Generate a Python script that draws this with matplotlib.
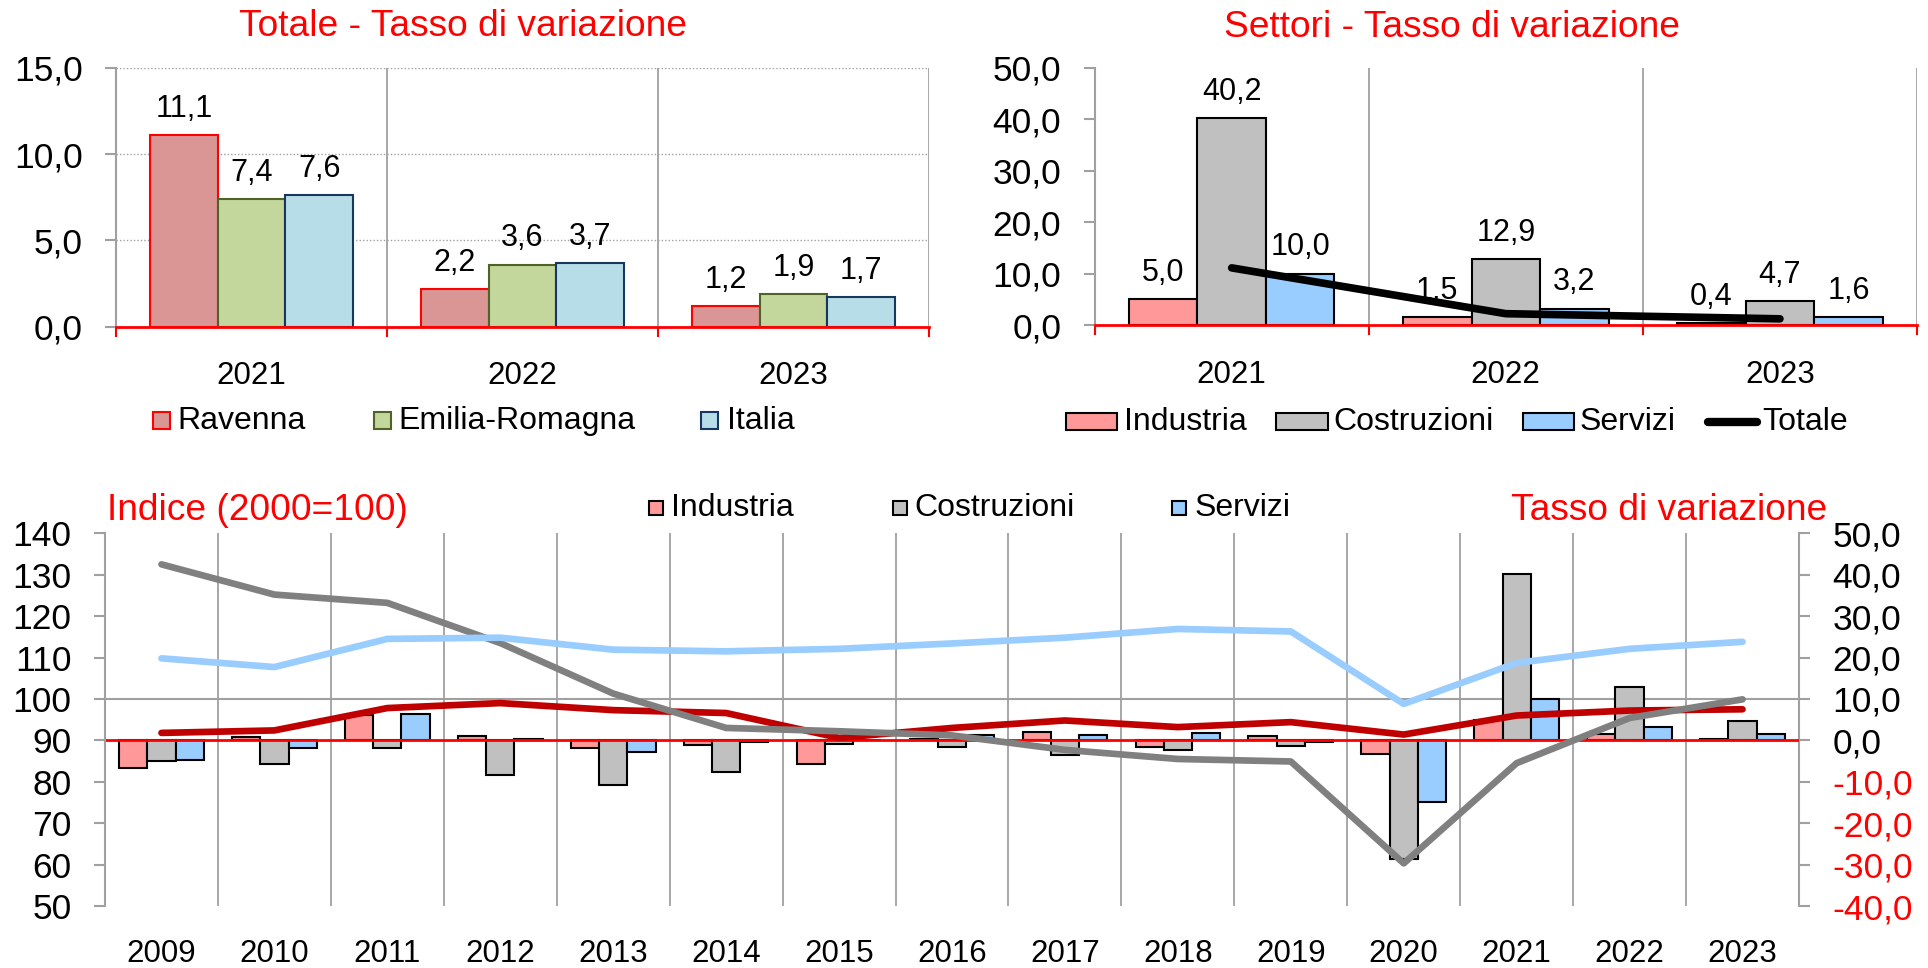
import numpy as np
import matplotlib
matplotlib.use('Agg')
import matplotlib.pyplot as plt
from matplotlib.patches import Rectangle
from matplotlib.lines import Line2D

plt.rcParams['font.family'] = ['Liberation Sans', 'DejaVu Sans']

# ---- top left: Totale - Tasso di variazione
tot_years = ['2021', '2022', '2023']
ravenna = [11.1, 2.2, 1.2]
emilia = [7.4, 3.6, 1.9]
italia = [7.6, 3.7, 1.7]

# ---- top right: Settori - Tasso di variazione
sett_industria = [5.0, 1.5, 0.4]
sett_costruzioni = [40.2, 12.9, 4.7]
sett_servizi = [10.0, 3.2, 1.6]
sett_totale = [11.1, 2.2, 1.2]

# ---- bottom: index (2000=100) and yearly change
years = ['2009', '2010', '2011', '2012', '2013', '2014', '2015', '2016',
         '2017', '2018', '2019', '2020', '2021', '2022', '2023']
var_industria = [-6.7, 0.8, 6.2, 1.0, -1.9, -1.1, -5.7, 0.4, 2.0, -1.7, 1.1, -3.2, 5.0, 1.5, 0.4]
var_costruzioni = [-5.1, -5.6, -1.9, -8.3, -10.7, -7.7, -1.0, -1.5, -3.6, -2.4, -1.3, -28.7, 40.2, 12.9, 4.7]
var_servizi = [-4.8, -1.9, 6.3, 0.3, -2.7, -0.3, 0.2, 1.4, 1.4, 1.7, -0.4, -15.0, 10.0, 3.2, 1.6]
idx_industria = [91.8, 92.4, 97.8, 99.0, 97.3, 96.6, 90.6, 93.0, 94.8, 93.2, 94.4, 91.4, 96.0, 97.2, 97.5]
idx_costruzioni = [132.5, 125.2, 123.2, 113.5, 101.3, 93.0, 92.2, 91.2, 87.7, 85.5, 84.9, 60.3, 84.5, 95.4, 99.9]
idx_servizi = [109.8, 107.7, 114.5, 114.8, 111.9, 111.5, 112.1, 113.4, 114.8, 116.9, 116.3, 98.8, 108.7, 112.1, 113.8]

W, H = 1928, 968
GRID = '#A0A0A0'
C_IND, C_COS, C_SER = '#FF9999', '#C0C0C0', '#99CCFF'
TICK_FS, CAT_FS, LAB_FS, LEG_FS, TITLE_FS = 25.5, 22.5, 22, 23, 26.7


def fx(px):
    return px / W


def fy(py):
    return 1 - py / H


def comma(v):
    return f'{v:.1f}'.replace('.', ',')


def axes_px(x0, y0, x1, y1):
    return fig.add_axes([fx(x0), fy(y1), (x1 - x0) / W, (y1 - y0) / H])


def legend_box(x0, x1, yc, h, face, edge, label, tx, fs=LEG_FS):
    fig.add_artist(Rectangle((fx(x0), fy(yc + h / 2)), (x1 - x0) / W, h / H,
                             transform=fig.transFigure, facecolor=face,
                             edgecolor=edge, lw=1.5))
    fig.text(fx(tx), fy(yc), label, ha='left', va='center', fontsize=fs)


def category_frame(ax, n, bottom_color='red'):
    ax.set_xlim(-0.5, n - 0.5)
    for b in np.arange(0.5, n, 1.0):
        ax.axvline(b, color=GRID, lw=1.3, zorder=1)
    for s in ['top', 'right']:
        ax.spines[s].set_visible(False)
    ax.spines['left'].set_color(GRID)
    ax.spines['left'].set_linewidth(1.5)
    ax.spines['bottom'].set_color(bottom_color)
    ax.spines['bottom'].set_linewidth(2)
    ax.spines['bottom'].set_zorder(4)
    ax.set_xticks(np.arange(-0.5, n, 1.0), minor=True)
    ax.tick_params(axis='x', which='minor', length=7, width=1.5, color='red', direction='out')
    ax.tick_params(axis='x', which='major', length=0, pad=25, labelsize=CAT_FS)
    ax.tick_params(axis='y', direction='out', length=8, width=1.5, color=GRID,
                   pad=16, labelsize=TICK_FS)


fig = plt.figure(figsize=(W / 100, H / 100), dpi=100)

# ================= top left
ax1 = axes_px(116, 67.7, 929, 326.7)
x = np.arange(len(tot_years))
bw = 0.25
for off, vals, face, edge in [(-bw, ravenna, '#D99694', '#FF0000'),
                              (0, emilia, '#C3D69B', '#4F6228'),
                              (bw, italia, '#B7DEE8', '#17375E')]:
    ax1.bar(x + off, vals, bw, color=face, edgecolor=edge, lw=1.5, zorder=3)
    for xi, v in zip(x + off, vals):
        ax1.annotate(comma(v), (xi, v), xytext=(0, 13), textcoords='offset points',
                     ha='center', va='baseline', fontsize=LAB_FS)
ax1.set_ylim(0, 15)
ax1.set_yticks([0, 5, 10, 15])
ax1.set_yticklabels([comma(v) for v in [0, 5, 10, 15]])
ax1.yaxis.grid(True, ls=(0, (1, 1.5)), color=GRID, lw=1)
ax1.set_axisbelow(True)
category_frame(ax1, len(tot_years))
ax1.set_xticks(x)
ax1.set_xticklabels(tot_years)
fig.text(fx(463), fy(36), 'Totale - Tasso di variazione', color='red',
         fontsize=TITLE_FS, ha='center', va='baseline')

legend_box(152.7, 169.6, 420.7, 17, '#D99694', '#FF0000', 'Ravenna', 177.7)
legend_box(374, 391, 420.7, 17, '#C3D69B', '#4F6228', 'Emilia-Romagna', 398.7)
legend_box(701, 718, 420.7, 17, '#B7DEE8', '#17375E', 'Italia', 727)

# ================= top right
ax2 = axes_px(1094.6, 67.7, 1917, 325)
for off, vals, face in [(-bw, sett_industria, C_IND),
                        (0, sett_costruzioni, C_COS),
                        (bw, sett_servizi, C_SER)]:
    ax2.bar(x + off, vals, bw, color=face, edgecolor='black', lw=1.5, zorder=3)
    for xi, v in zip(x + off, vals):
        ax2.annotate(comma(v), (xi, v), xytext=(0, 13), textcoords='offset points',
                     ha='center', va='baseline', fontsize=LAB_FS)
ax2.plot(x, sett_totale, color='black', lw=5.5, solid_capstyle='round', zorder=5)
ax2.set_ylim(0, 50)
ax2.set_yticks(np.arange(0, 51, 10))
ax2.set_yticklabels([comma(v) for v in np.arange(0, 51, 10)])
category_frame(ax2, len(tot_years))
ax2.set_xticks(x)
ax2.set_xticklabels(tot_years)
fig.text(fx(1452), fy(36.7), 'Settori - Tasso di variazione', color='red',
         fontsize=TITLE_FS, ha='center', va='baseline')

legend_box(1066, 1117, 421.7, 17, C_IND, 'black', 'Industria', 1123.6)
legend_box(1276, 1328, 421.7, 17, C_COS, 'black', 'Costruzioni', 1333)
legend_box(1523, 1574, 421.7, 17, C_SER, 'black', 'Servizi', 1580)
fig.add_artist(Line2D([fx(1708), fx(1757)], [fy(421.7), fy(421.7)], color='black',
                      lw=6, solid_capstyle='round', transform=fig.transFigure))
fig.text(fx(1762), fy(421.7), 'Totale', ha='left', va='center', fontsize=LEG_FS)

# ================= bottom
axb = axes_px(105, 533.3, 1799, 906)
xb = np.arange(len(years))
axb.bar(xb - bw, var_industria, bw, color=C_IND, edgecolor='black', lw=1.5, zorder=3)
axb.bar(xb, var_costruzioni, bw, color=C_COS, edgecolor='black', lw=1.5, zorder=3)
axb.bar(xb + bw, var_servizi, bw, color=C_SER, edgecolor='black', lw=1.5, zorder=3)
axb.axhline(0, color='red', lw=2, zorder=3.5)
axb.axhline(10, color=GRID, lw=1.5, zorder=0.5)
axb.set_xlim(-0.5, len(years) - 0.5)
for b in np.arange(0.5, len(years) - 1, 1.0):
    axb.axvline(b, color=GRID, lw=1.3, zorder=0.5)
axb.set_ylim(-40, 50)
rt = np.arange(-40, 51, 10)
axb.set_yticks(rt)
axb.set_yticklabels([comma(v) for v in rt])
axb.set_xticks(xb)
axb.set_xticklabels(years)
axb.tick_params(axis='x', length=0, pad=24, labelsize=CAT_FS)

axl = axb.twinx()
axl.plot(xb, idx_industria, color='#C00000', lw=4.8, solid_capstyle='round')
axl.plot(xb, idx_costruzioni, color='#808080', lw=4.8, solid_capstyle='round')
axl.plot(xb, idx_servizi, color='#99CCFF', lw=4.8, solid_capstyle='round')
axl.set_ylim(50, 140)
axl.set_yticks(np.arange(50, 141, 10))

axb.yaxis.tick_right()
axl.yaxis.tick_left()
axb.tick_params(axis='y', direction='out', length=8, width=1.5, color=GRID,
                pad=16, labelsize=TICK_FS)
axl.tick_params(axis='y', direction='out', length=8, width=1.5, color=GRID,
                pad=16, labelsize=TICK_FS)
for lab, v in zip(axb.get_yticklabels(), rt):
    lab.set_color('red' if v < 0 else 'black')
for a in (axb, axl):
    for s in ['top', 'bottom', 'left', 'right']:
        a.spines[s].set_visible(False)
axb.spines['right'].set_visible(True)
axb.spines['right'].set_color(GRID)
axb.spines['right'].set_linewidth(1.5)
axl.spines['left'].set_visible(True)
axl.spines['left'].set_color(GRID)
axl.spines['left'].set_linewidth(1.5)

fig.text(fx(107), fy(520), 'Indice (2000=100)', color='red', fontsize=TITLE_FS,
         ha='left', va='baseline')
fig.text(fx(1827), fy(520), 'Tasso di variazione', color='red', fontsize=TITLE_FS,
         ha='right', va='baseline')
legend_box(649, 663, 508, 14, C_IND, 'black', 'Industria', 671)
legend_box(893, 907, 508, 14, C_COS, 'black', 'Costruzioni', 914)
legend_box(1172, 1186, 508, 14, C_SER, 'black', 'Servizi', 1195)

fig.savefig('out.png', dpi=100)
